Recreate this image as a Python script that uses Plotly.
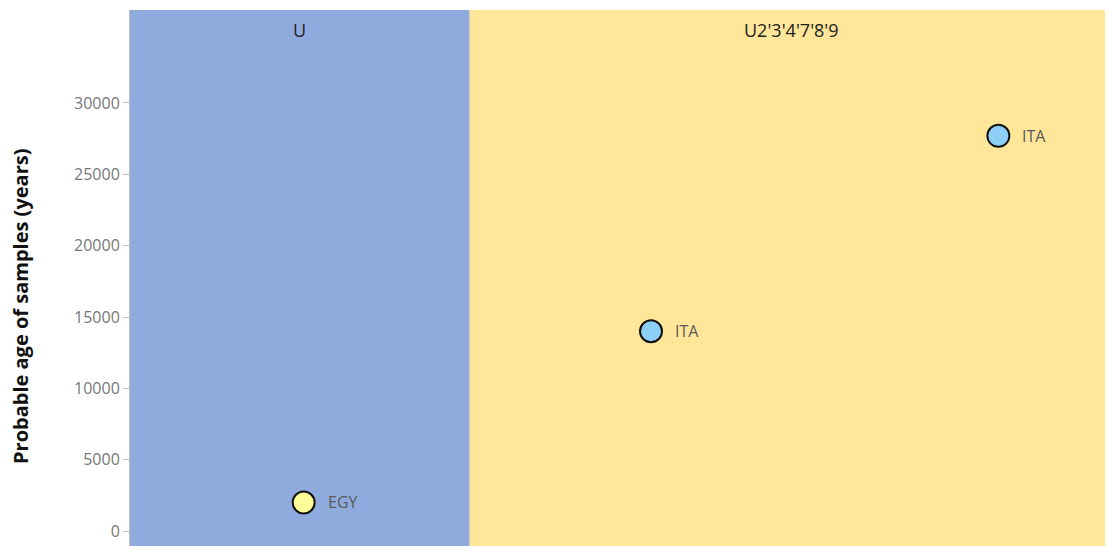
import plotly.graph_objects as go

# Data
regions = ["U", "U2'3'4'7'8'9"]
region_bounds = [0.5, 1.477, 3.33]
region_colors = ["#8FAADC", "#FFE699"]

sample_x = [1, 2, 3]
sample_age = [2000, 14000, 27700]
sample_labels = ["EGY", "ITA", "ITA"]
sample_colors = ["#FFFF99", "#8ECFF7", "#8ECFF7"]

y_ticks = [0, 5000, 10000, 15000, 20000, 25000, 30000]
y_ticktext = [str(v) for v in y_ticks]

fig = go.Figure()

shapes = []
for i, name in enumerate(regions):
    shapes.append(dict(type="rect", xref="x", yref="paper",
                       x0=region_bounds[i], x1=region_bounds[i + 1], y0=0, y1=1,
                       fillcolor=region_colors[i], line=dict(width=0), layer="below"))
shapes.append(dict(type="line", xref="x", yref="paper",
                   x0=region_bounds[1], x1=region_bounds[1], y0=0, y1=1,
                   line=dict(color="#C8C8C8", width=1), layer="below"))

fig.add_trace(go.Scatter(
    x=sample_x, y=sample_age, mode="markers",
    marker=dict(size=22, color=sample_colors, line=dict(color="#111111", width=2)),
    hoverinfo="skip", showlegend=False,
))

annotations = []
for xv, yv, lab in zip(sample_x, sample_age, sample_labels):
    annotations.append(dict(x=xv, y=yv, xref="x", yref="y", text=lab, showarrow=False,
                            xanchor="left", xshift=22,
                            font=dict(family="Open Sans", size=16, color="#595959")))
for i, name in enumerate(regions):
    annotations.append(dict(x=(region_bounds[i] + region_bounds[i + 1]) / 2, y=1,
                            xref="x", yref="paper", yanchor="top", yshift=-6,
                            text=name, showarrow=False,
                            font=dict(family="Open Sans", size=18, color="#222222")))
annotations.append(dict(x=0, y=0.5, xref="paper", yref="paper",
                        text="<b>Probable age of samples (years)</b>", textangle=-90,
                        showarrow=False, xanchor="center", yanchor="middle",
                        xshift=-110, yshift=-29,
                        font=dict(family="Open Sans", size=20, color="#111111")))

fig.update_layout(
    width=1105, height=538,
    margin=dict(l=122, r=0, t=2, b=0),
    paper_bgcolor="white", plot_bgcolor="white",
    shapes=shapes, annotations=annotations,
    xaxis=dict(range=[region_bounds[0], region_bounds[-1]], visible=False, fixedrange=True),
    yaxis=dict(range=[-1051, 36518], tickvals=y_ticks, ticktext=y_ticktext,
               showgrid=False, zeroline=False,
               showline=True, linecolor="#BFBFBF", linewidth=1,
               ticks="outside", ticklen=6, tickcolor="#BFBFBF",
               tickfont=dict(family="Open Sans", size=16, color="#777777")),
)

fig.write_html("out.html")
